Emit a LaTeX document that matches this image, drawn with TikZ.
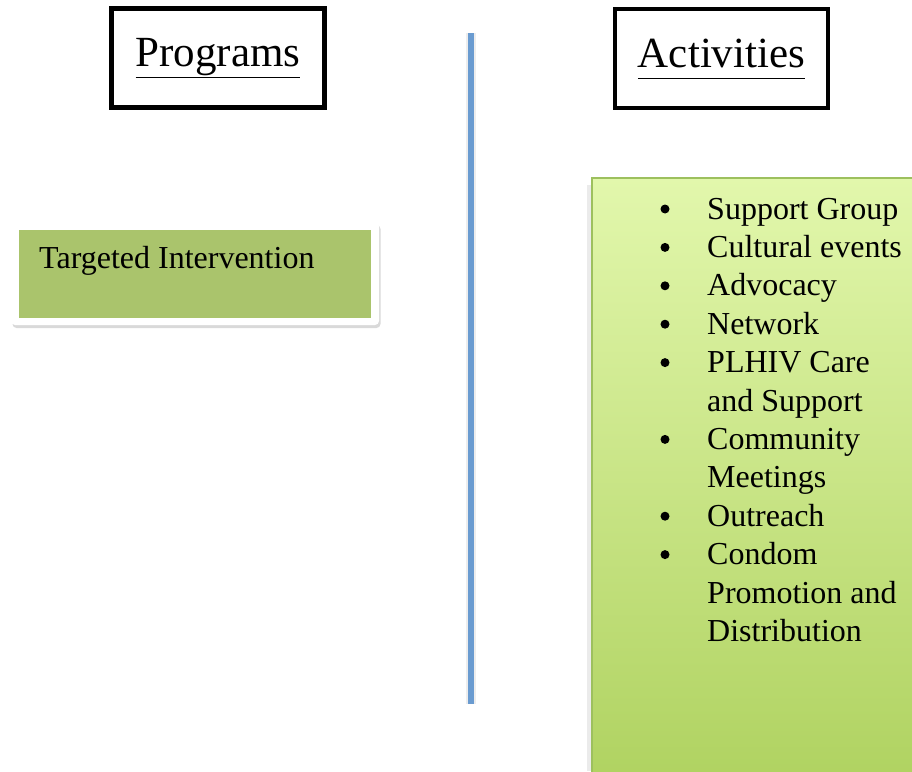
\documentclass[tikz,border=0pt]{standalone}
\usepackage{fontspec}
\setmainfont{Liberation Serif}
\usetikzlibrary{shadows}

\definecolor{tigreen}{HTML}{AAC46C}
\definecolor{acttop}{HTML}{E2F7AC}
\definecolor{actbottom}{HTML}{AFD260}
\definecolor{actborder}{HTML}{9DC05E}
\definecolor{divider}{HTML}{6A9BD0}

\newcommand{\bodyfont}{\fontsize{32}{38.4}\selectfont}
\newcommand{\headfont}{\fontsize{43}{50}\selectfont}

\begin{document}
\begin{tikzpicture}[x=1pt, y=-1pt,
    header/.style={draw, line width=4.5pt, minimum width=213pt, minimum height=99pt, inner sep=0pt, font=\headfont},
    frame/.style={fill=white, rounded corners=4pt, drop shadow={shadow xshift=1.5pt, shadow yshift=-3pt, opacity=0.3}}]
    \useasboundingbox (0,0) rectangle (912,771);

    % Set up column positions
    \coordinate (divtop) at (471,33);
    \coordinate (divbot) at (471,704);

    % Draw headers
    \node[header] (programs) at (218,58) {\underline{Programs}};
    \node[header] (activities) at (721.5,58.5) {\underline{Activities\vphantom{g}}};

    % Draw divider
    \draw[black!7, line width=10pt] (divtop) -- (divbot);
    \draw[divider, line width=6pt] (divtop) -- (divbot);

    % Draw program box
    \node[frame, minimum width=368pt, minimum height=103pt] (tiframe) at (195,273.5) {};
    \node[fill=tigreen, minimum width=352pt, minimum height=88pt] (tibox) at (tiframe.center) {};
    \node[anchor=base west, inner sep=0pt, font=\bodyfont] (tilabel) at (39,268) {Targeted Intervention};

    % Draw activity box
    \draw[black!8, line width=4pt] (588.5,185) -- (588.5,771);
    \node[anchor=north west, top color=acttop, bottom color=actbottom, draw=actborder, line width=2pt,
          minimum width=340pt, minimum height=610pt] (actbox) at (591,177) {};
    \node[anchor=base west, inner sep=0pt, font=\bodyfont] (actlist) at (707,219) {%
        \begin{tabular}[t]{@{}l@{}}
        Support Group\\
        Cultural events\\
        Advocacy\\
        Network\\
        PLHIV Care\\
        and Support\\
        Community\\
        Meetings\\
        Outreach\\
        Condom\\
        Promotion and\\
        Distribution
        \end{tabular}};

    % Draw bullets
    \foreach \row in {0,1,2,3,4,6,8,9} {
        \fill (665,209+38.4*\row) circle (4.5pt);
    }
\end{tikzpicture}
\end{document}
